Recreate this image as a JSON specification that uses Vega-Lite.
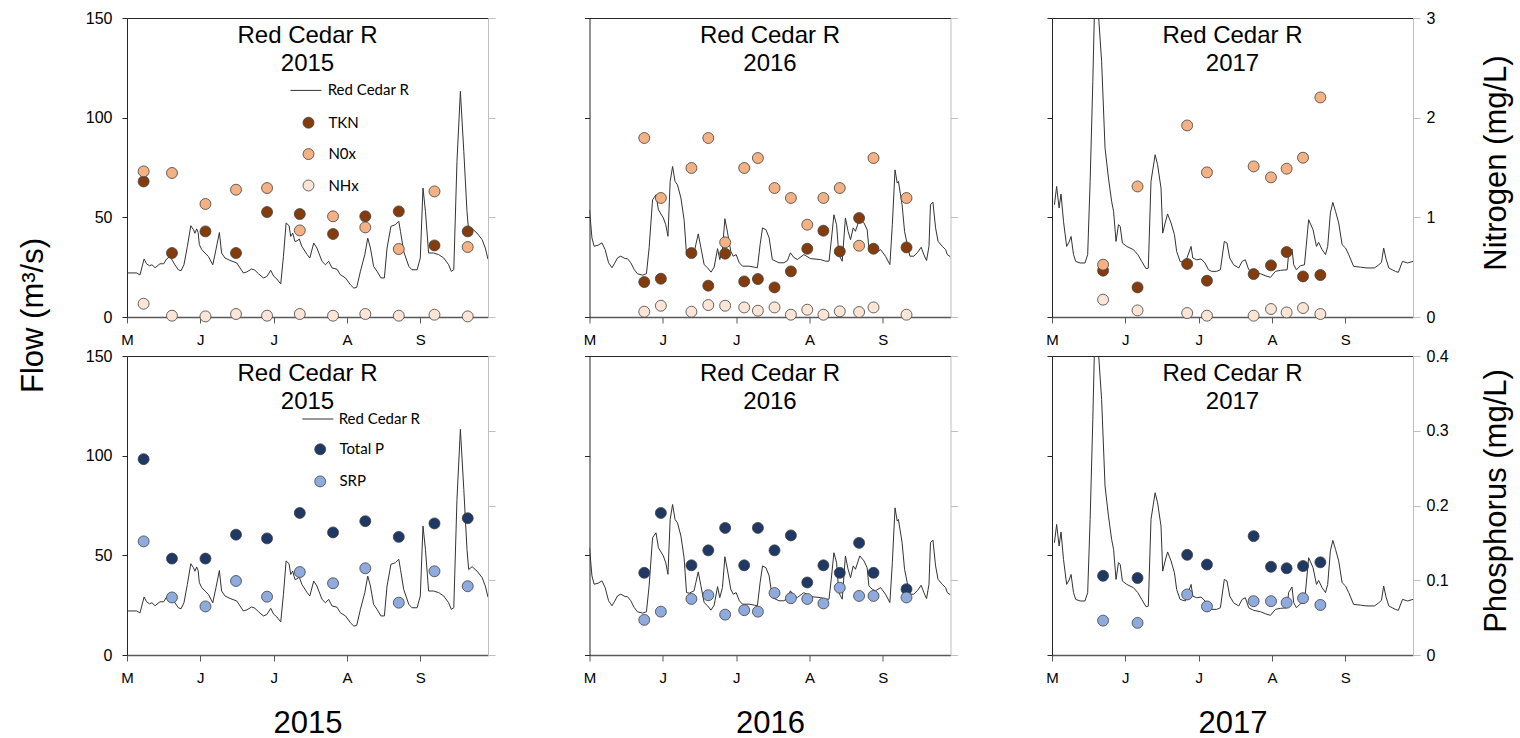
{
  "$schema": "https://vega.github.io/schema/vega-lite/v6.json",
  "background": "white",
  "padding": {"left": 17, "top": 10, "right": 5, "bottom": 0},
  "config": {
    "font": "Liberation Sans",
    "view": {"stroke": null},
    "axis": {"grid": false, "labelFlush": false, "labelColor": "#000", "titleColor": "#000", "titleFontWeight": "normal", "labelFont": "Liberation Sans", "titleFont": "Liberation Sans"},
    "legend": {"labelFont": "Lato", "labelFontSize": 15, "labelColor": "#000", "padding": 0},
    "text": {"font": "Liberation Sans", "fontSize": 24, "color": "#000", "baseline": "top", "align": "center", "lineHeight": 28}
  },
  "datasets": {
    "titles": [
      {"year":2015,"label":["Red Cedar R","2015"]},
      {"year":2016,"label":["Red Cedar R","2016"]},
      {"year":2017,"label":["Red Cedar R","2017"]}
    ],
    "flow2015": [
      {"day":0,"flow":22.1},{"day":4,"flow":22.1},{"day":5.3,"flow":21.1},{"day":7,"flow":29.1},{"day":8,"flow":26.7},{"day":9.2,"flow":25.7},{"day":10.2,"flow":26.2},{"day":11.5,"flow":24.7},{"day":13.5,"flow":26.7},{"day":15,"flow":26.7},{"day":16.2,"flow":29.1},{"day":17.6,"flow":30.4},{"day":19.6,"flow":26.2},{"day":21,"flow":23.7},{"day":22.1,"flow":23.2},{"day":23.3,"flow":26.2},{"day":24.7,"flow":35.4},{"day":26.1,"flow":45.8},{"day":27.2,"flow":43.8},{"day":27.8,"flow":42},{"day":28.5,"flow":44.2},{"day":29.1,"flow":42.4},{"day":29.6,"flow":36.3},{"day":30.6,"flow":33.8},{"day":31.9,"flow":32.1},{"day":33.3,"flow":30.4},{"day":35.1,"flow":26.2},{"day":36.4,"flow":33.8},{"day":37.8,"flow":42.4},{"day":38.7,"flow":32.1},{"day":40.1,"flow":29.6},{"day":42.1,"flow":28.4},{"day":44.9,"flow":27.1},{"day":47.6,"flow":22.1},{"day":49,"flow":22.6},{"day":51,"flow":24.1},{"day":52.3,"flow":23.5},{"day":53.8,"flow":21.7},{"day":55.8,"flow":19.6},{"day":57.2,"flow":20.3},{"day":58.8,"flow":23.4},{"day":60,"flow":20.5},{"day":61.3,"flow":19.1},{"day":62.9,"flow":16.6},{"day":64,"flow":30.4},{"day":65.1,"flow":47.2},{"day":66.3,"flow":45.8},{"day":67,"flow":40.4},{"day":67.8,"flow":42.1},{"day":68.7,"flow":37.9},{"day":69.6,"flow":38.2},{"day":70.5,"flow":39.1},{"day":71.5,"flow":35.5},{"day":73.7,"flow":31.3},{"day":74.8,"flow":29.6},{"day":76.4,"flow":37.1},{"day":77.7,"flow":34.6},{"day":79.8,"flow":27.9},{"day":81.2,"flow":26.2},{"day":82.5,"flow":27.9},{"day":83.9,"flow":24.6},{"day":85.9,"flow":24},{"day":87.3,"flow":21.2},{"day":89.4,"flow":19.6},{"day":91.4,"flow":16.2},{"day":92.8,"flow":14.5},{"day":94,"flow":14.9},{"day":95.5,"flow":22.9},{"day":97.3,"flow":31.3},{"day":98.5,"flow":39.6},{"day":99.6,"flow":34.6},{"day":100.9,"flow":25.4},{"day":102.3,"flow":22.9},{"day":103.9,"flow":19.6},{"day":105.3,"flow":19.6},{"day":106.4,"flow":34.6},{"day":108,"flow":45.5},{"day":109.8,"flow":46.3},{"day":111.2,"flow":48},{"day":111.9,"flow":42.9},{"day":113.2,"flow":32.9},{"day":115.3,"flow":25.4},{"day":116.6,"flow":23.7},{"day":118.7,"flow":23.7},{"day":120,"flow":29.6},{"day":121.1,"flow":64.7},{"day":122.1,"flow":53},{"day":123.4,"flow":32.1},{"day":125.4,"flow":32.1},{"day":127.5,"flow":31.3},{"day":129.6,"flow":29.6},{"day":131.6,"flow":26.2},{"day":132.7,"flow":22.9},{"day":133.7,"flow":23.7},{"day":135,"flow":78},{"day":136.4,"flow":113.2},{"day":137.8,"flow":83.1},{"day":139.1,"flow":53},{"day":139.8,"flow":42.9},{"day":141.2,"flow":44.3},{"day":143.2,"flow":42.1},{"day":145.3,"flow":38.8},{"day":146.6,"flow":34.6},{"day":147.7,"flow":29}
    ],
    "flow2016": [
      {"day":0,"flow":53.8},{"day":1,"flow":39.7},{"day":1.9,"flow":35.5},{"day":3.5,"flow":36},{"day":5.1,"flow":37.2},{"day":6.4,"flow":33.8},{"day":7.8,"flow":27.2},{"day":9.2,"flow":24.7},{"day":10.3,"flow":27},{"day":11.5,"flow":29.7},{"day":12.8,"flow":30.5},{"day":14.6,"flow":29.3},{"day":15.5,"flow":29.3},{"day":16.9,"flow":27.2},{"day":18.3,"flow":23.8},{"day":19.6,"flow":21.7},{"day":21.7,"flow":21},{"day":23.3,"flow":21.7},{"day":24.4,"flow":34.7},{"day":25.8,"flow":58.8},{"day":27.2,"flow":61.3},{"day":28.2,"flow":53.8},{"day":30.2,"flow":49.7},{"day":31.2,"flow":46.3},{"day":32.1,"flow":40.5},{"day":33,"flow":68},{"day":34,"flow":75.5},{"day":35,"flow":68},{"day":36,"flow":66.3},{"day":37.4,"flow":59.7},{"day":38.7,"flow":48.8},{"day":39.7,"flow":31.3},{"day":40.8,"flow":31},{"day":42.8,"flow":32.2},{"day":43.5,"flow":36.3},{"day":44.5,"flow":41.7},{"day":45.6,"flow":34.7},{"day":46.9,"flow":26.3},{"day":48.3,"flow":24.7},{"day":49.7,"flow":22.5},{"day":51,"flow":25},{"day":52.4,"flow":34.3},{"day":53.3,"flow":28.8},{"day":54.4,"flow":33.8},{"day":55.4,"flow":49.3},{"day":56.5,"flow":42.2},{"day":57.8,"flow":33},{"day":58.8,"flow":30.5},{"day":60,"flow":31.3},{"day":61.3,"flow":27.2},{"day":62.6,"flow":25.5},{"day":65.3,"flow":25.5},{"day":67.4,"flow":25},{"day":68.7,"flow":24.7},{"day":69.8,"flow":36.3},{"day":70.8,"flow":44.7},{"day":72.2,"flow":43.8},{"day":73.5,"flow":39.7},{"day":74.8,"flow":28.8},{"day":77.5,"flow":27.2},{"day":79.5,"flow":27.2},{"day":81,"flow":28.3},{"day":82.2,"flow":32.2},{"day":83.5,"flow":30},{"day":85,"flow":28.8},{"day":87.7,"flow":31.3},{"day":90.4,"flow":29.3},{"day":94.5,"flow":28.8},{"day":96.6,"flow":28},{"day":98,"flow":28},{"day":98.9,"flow":38},{"day":100,"flow":51.3},{"day":101.1,"flow":46.3},{"day":102,"flow":31.3},{"day":103.4,"flow":28},{"day":104.7,"flow":49.7},{"day":105.8,"flow":43},{"day":106.8,"flow":38.8},{"day":107.9,"flow":44.7},{"day":108.8,"flow":43},{"day":110.6,"flow":49.7},{"day":112.3,"flow":47.2},{"day":113.6,"flow":43.8},{"day":114.3,"flow":34.7},{"day":115.7,"flow":33},{"day":117,"flow":32.2},{"day":119.1,"flow":33.8},{"day":121.1,"flow":30.5},{"day":122.9,"flow":26.3},{"day":123.9,"flow":46.3},{"day":125,"flow":73.8},{"day":125.9,"flow":67.2},{"day":126.4,"flow":68},{"day":127.9,"flow":56.3},{"day":128.9,"flow":43},{"day":130,"flow":36.3},{"day":131.1,"flow":30.5},{"day":132.7,"flow":30.5},{"day":134.3,"flow":32.5},{"day":135.7,"flow":35},{"day":136.8,"flow":31.3},{"day":137.9,"flow":28.3},{"day":138.9,"flow":35.5},{"day":139.5,"flow":56.3},{"day":140.5,"flow":57.7},{"day":141.6,"flow":44.7},{"day":142.6,"flow":38},{"day":144.3,"flow":35.5},{"day":145.7,"flow":33.8},{"day":146.4,"flow":31.3},{"day":147.7,"flow":30.2}
    ],
    "flow2017": [
      {"day":1,"flow":56.3},{"day":1.9,"flow":65.5},{"day":2.9,"flow":54.7},{"day":3.7,"flow":61.7},{"day":4.7,"flow":48},{"day":6,"flow":35.4},{"day":7,"flow":37.6},{"day":7.8,"flow":40.4},{"day":8.8,"flow":31.3},{"day":9.7,"flow":27.9},{"day":11.5,"flow":27.1},{"day":13.5,"flow":27.1},{"day":14.6,"flow":31.3},{"day":15.6,"flow":68},{"day":16.7,"flow":118.2},{"day":17.3,"flow":150},{"day":18,"flow":165},{"day":19,"flow":152},{"day":20.3,"flow":128.2},{"day":21.7,"flow":84.8},{"day":23.1,"flow":69.7},{"day":24.4,"flow":58},{"day":25.2,"flow":53},{"day":26.2,"flow":37.9},{"day":27.2,"flow":46.3},{"day":27.9,"flow":45.5},{"day":28.8,"flow":37.1},{"day":30.6,"flow":35.4},{"day":33.3,"flow":33.8},{"day":35.1,"flow":31.3},{"day":36.7,"flow":27.9},{"day":38.5,"flow":24.2},{"day":39.4,"flow":24.5},{"day":40.5,"flow":68},{"day":42.2,"flow":81.4},{"day":43.2,"flow":76.4},{"day":44.6,"flow":64.7},{"day":45.3,"flow":42.1},{"day":46.3,"flow":47.2},{"day":47.3,"flow":51.7},{"day":48.7,"flow":47.2},{"day":50.1,"flow":41.3},{"day":51,"flow":32.9},{"day":52.4,"flow":27.9},{"day":54.5,"flow":27.1},{"day":56.9,"flow":35.4},{"day":57.6,"flow":29.6},{"day":59.2,"flow":28.7},{"day":61,"flow":29.1},{"day":62.6,"flow":27.1},{"day":64,"flow":23.7},{"day":65.3,"flow":22.9},{"day":67.4,"flow":22.9},{"day":68.9,"flow":23.7},{"day":70.5,"flow":37.9},{"day":71.6,"flow":37.1},{"day":72.7,"flow":29.6},{"day":74.3,"flow":26.2},{"day":76.4,"flow":24.6},{"day":77.8,"flow":27.9},{"day":79.1,"flow":28.7},{"day":80.5,"flow":23.7},{"day":82.5,"flow":22.4},{"day":85.3,"flow":21.7},{"day":87.3,"flow":20.7},{"day":89.4,"flow":19.9},{"day":91.4,"flow":22.9},{"day":93.5,"flow":23.4},{"day":96.2,"flow":23.7},{"day":96.8,"flow":31.3},{"day":98.2,"flow":34.1},{"day":98.9,"flow":26.2},{"day":100,"flow":23.7},{"day":101.6,"flow":25.7},{"day":103.3,"flow":26.2},{"day":105,"flow":48.8},{"day":106.8,"flow":43.8},{"day":108.2,"flow":35.4},{"day":109.1,"flow":37.4},{"day":110.5,"flow":33.8},{"day":111.9,"flow":31.3},{"day":112.8,"flow":35.4},{"day":113.9,"flow":52.2},{"day":114.9,"flow":57.5},{"day":116,"flow":53},{"day":117.3,"flow":47.2},{"day":118.7,"flow":36.3},{"day":120.1,"flow":34.6},{"day":121.4,"flow":31.3},{"day":123.4,"flow":25.4},{"day":126.2,"flow":25},{"day":128.9,"flow":24.6},{"day":131.9,"flow":24.6},{"day":133.7,"flow":26.2},{"day":134.8,"flow":27.4},{"day":135.7,"flow":34.6},{"day":136.7,"flow":29},{"day":137.8,"flow":24.6},{"day":139.2,"flow":23.7},{"day":140.5,"flow":22.9},{"day":141.7,"flow":22.4},{"day":143.4,"flow":27.9},{"day":145.5,"flow":27.1},{"day":147.7,"flow":27.9}
    ],
    "nitrogen": [
      {"year":2015,"param":"TKN","day":6.8,"value":1.36},{"year":2015,"param":"TKN","day":18.4,"value":0.642},{"year":2015,"param":"TKN","day":32.1,"value":0.859},{"year":2015,"param":"TKN","day":44.6,"value":0.642},{"year":2015,"param":"TKN","day":57.3,"value":1.053},{"year":2015,"param":"TKN","day":70.7,"value":1.033},{"year":2015,"param":"TKN","day":84.3,"value":0.833},{"year":2015,"param":"TKN","day":97.5,"value":1.01},{"year":2015,"param":"TKN","day":111.2,"value":1.06},{"year":2015,"param":"TKN","day":125.8,"value":0.718},{"year":2015,"param":"TKN","day":139.4,"value":0.859},
      {"year":2015,"param":"N0x","day":6.8,"value":1.461},{"year":2015,"param":"N0x","day":18.4,"value":1.445},{"year":2015,"param":"N0x","day":32.1,"value":1.134},{"year":2015,"param":"N0x","day":44.6,"value":1.277},{"year":2015,"param":"N0x","day":57.3,"value":1.294},{"year":2015,"param":"N0x","day":70.7,"value":0.869},{"year":2015,"param":"N0x","day":84.3,"value":1.01},{"year":2015,"param":"N0x","day":97.5,"value":0.899},{"year":2015,"param":"N0x","day":111.2,"value":0.682},{"year":2015,"param":"N0x","day":125.8,"value":1.26},{"year":2015,"param":"N0x","day":139.4,"value":0.702},
      {"year":2015,"param":"NHx","day":6.8,"value":0.133},{"year":2015,"param":"NHx","day":18.4,"value":0.013},{"year":2015,"param":"NHx","day":32.1,"value":0.006},{"year":2015,"param":"NHx","day":44.6,"value":0.03},{"year":2015,"param":"NHx","day":57.3,"value":0.013},{"year":2015,"param":"NHx","day":70.7,"value":0.03},{"year":2015,"param":"NHx","day":84.3,"value":0.013},{"year":2015,"param":"NHx","day":97.5,"value":0.03},{"year":2015,"param":"NHx","day":111.2,"value":0.013},{"year":2015,"param":"NHx","day":125.8,"value":0.023},{"year":2015,"param":"NHx","day":139.4,"value":0.006},
      {"year":2016,"param":"TKN","day":22.4,"value":0.351},{"year":2016,"param":"TKN","day":29.2,"value":0.384},{"year":2016,"param":"TKN","day":41.7,"value":0.642},{"year":2016,"param":"TKN","day":48.6,"value":0.314},{"year":2016,"param":"TKN","day":55.5,"value":0.635},{"year":2016,"param":"TKN","day":63.3,"value":0.357},{"year":2016,"param":"TKN","day":68.9,"value":0.381},{"year":2016,"param":"TKN","day":75.7,"value":0.297},{"year":2016,"param":"TKN","day":82.4,"value":0.458},{"year":2016,"param":"TKN","day":89.1,"value":0.685},{"year":2016,"param":"TKN","day":95.7,"value":0.866},{"year":2016,"param":"TKN","day":102.4,"value":0.658},{"year":2016,"param":"TKN","day":110.3,"value":0.993},{"year":2016,"param":"TKN","day":116.2,"value":0.685},{"year":2016,"param":"TKN","day":129.7,"value":0.698},
      {"year":2016,"param":"N0x","day":22.4,"value":1.796},{"year":2016,"param":"N0x","day":29.2,"value":1.194},{"year":2016,"param":"N0x","day":41.7,"value":1.495},{"year":2016,"param":"N0x","day":48.6,"value":1.796},{"year":2016,"param":"N0x","day":55.5,"value":0.749},{"year":2016,"param":"N0x","day":63.3,"value":1.495},{"year":2016,"param":"N0x","day":68.9,"value":1.595},{"year":2016,"param":"N0x","day":75.7,"value":1.294},{"year":2016,"param":"N0x","day":82.4,"value":1.194},{"year":2016,"param":"N0x","day":89.1,"value":0.926},{"year":2016,"param":"N0x","day":95.7,"value":1.194},{"year":2016,"param":"N0x","day":102.4,"value":1.294},{"year":2016,"param":"N0x","day":110.3,"value":0.715},{"year":2016,"param":"N0x","day":116.2,"value":1.595},{"year":2016,"param":"N0x","day":129.7,"value":1.194},
      {"year":2016,"param":"NHx","day":22.4,"value":0.053},{"year":2016,"param":"NHx","day":29.2,"value":0.113},{"year":2016,"param":"NHx","day":41.7,"value":0.053},{"year":2016,"param":"NHx","day":48.6,"value":0.12},{"year":2016,"param":"NHx","day":55.5,"value":0.113},{"year":2016,"param":"NHx","day":63.3,"value":0.096},{"year":2016,"param":"NHx","day":68.9,"value":0.063},{"year":2016,"param":"NHx","day":75.7,"value":0.096},{"year":2016,"param":"NHx","day":82.4,"value":0.023},{"year":2016,"param":"NHx","day":89.1,"value":0.073},{"year":2016,"param":"NHx","day":95.7,"value":0.023},{"year":2016,"param":"NHx","day":102.4,"value":0.057},{"year":2016,"param":"NHx","day":110.3,"value":0.05},{"year":2016,"param":"NHx","day":116.2,"value":0.096},{"year":2016,"param":"NHx","day":129.7,"value":0.023},
      {"year":2017,"param":"TKN","day":20.9,"value":0.465},{"year":2017,"param":"TKN","day":35,"value":0.297},{"year":2017,"param":"TKN","day":55.3,"value":0.532},{"year":2017,"param":"TKN","day":63.4,"value":0.364},{"year":2017,"param":"TKN","day":82.5,"value":0.431},{"year":2017,"param":"TKN","day":89.6,"value":0.518},{"year":2017,"param":"TKN","day":96,"value":0.652},{"year":2017,"param":"TKN","day":102.7,"value":0.407},{"year":2017,"param":"TKN","day":109.8,"value":0.421},
      {"year":2017,"param":"N0x","day":20.9,"value":0.525},{"year":2017,"param":"N0x","day":35,"value":1.31},{"year":2017,"param":"N0x","day":55.3,"value":1.922},{"year":2017,"param":"N0x","day":63.4,"value":1.451},{"year":2017,"param":"N0x","day":82.5,"value":1.511},{"year":2017,"param":"N0x","day":89.6,"value":1.401},{"year":2017,"param":"N0x","day":96,"value":1.488},{"year":2017,"param":"N0x","day":102.7,"value":1.598},{"year":2017,"param":"N0x","day":109.8,"value":2.203},
      {"year":2017,"param":"NHx","day":20.9,"value":0.174},{"year":2017,"param":"NHx","day":35,"value":0.066},{"year":2017,"param":"NHx","day":55.3,"value":0.04},{"year":2017,"param":"NHx","day":63.4,"value":0.013},{"year":2017,"param":"NHx","day":82.5,"value":0.013},{"year":2017,"param":"NHx","day":89.6,"value":0.08},{"year":2017,"param":"NHx","day":96,"value":0.046},{"year":2017,"param":"NHx","day":102.7,"value":0.09},{"year":2017,"param":"NHx","day":109.8,"value":0.03}
    ],
    "phosphorus": [
      {"year":2015,"param":"Total P","day":6.8,"value":0.262},{"year":2015,"param":"Total P","day":18.4,"value":0.129},{"year":2015,"param":"Total P","day":32.1,"value":0.129},{"year":2015,"param":"Total P","day":44.6,"value":0.161},{"year":2015,"param":"Total P","day":57.3,"value":0.156},{"year":2015,"param":"Total P","day":70.7,"value":0.19},{"year":2015,"param":"Total P","day":84.3,"value":0.164},{"year":2015,"param":"Total P","day":97.5,"value":0.179},{"year":2015,"param":"Total P","day":111.2,"value":0.158},{"year":2015,"param":"Total P","day":125.8,"value":0.176},{"year":2015,"param":"Total P","day":139.4,"value":0.183},
      {"year":2015,"param":"SRP","day":6.8,"value":0.152},{"year":2015,"param":"SRP","day":18.4,"value":0.077},{"year":2015,"param":"SRP","day":32.1,"value":0.065},{"year":2015,"param":"SRP","day":44.6,"value":0.099},{"year":2015,"param":"SRP","day":57.3,"value":0.078},{"year":2015,"param":"SRP","day":70.7,"value":0.111},{"year":2015,"param":"SRP","day":84.3,"value":0.096},{"year":2015,"param":"SRP","day":97.5,"value":0.116},{"year":2015,"param":"SRP","day":111.2,"value":0.07},{"year":2015,"param":"SRP","day":125.8,"value":0.112},{"year":2015,"param":"SRP","day":139.4,"value":0.092},
      {"year":2016,"param":"Total P","day":22.4,"value":0.11},{"year":2016,"param":"Total P","day":29.2,"value":0.19},{"year":2016,"param":"Total P","day":41.7,"value":0.12},{"year":2016,"param":"Total P","day":48.6,"value":0.14},{"year":2016,"param":"Total P","day":55.5,"value":0.17},{"year":2016,"param":"Total P","day":63.3,"value":0.12},{"year":2016,"param":"Total P","day":68.9,"value":0.17},{"year":2016,"param":"Total P","day":75.7,"value":0.14},{"year":2016,"param":"Total P","day":82.4,"value":0.16},{"year":2016,"param":"Total P","day":89.1,"value":0.097},{"year":2016,"param":"Total P","day":95.7,"value":0.12},{"year":2016,"param":"Total P","day":102.4,"value":0.11},{"year":2016,"param":"Total P","day":110.3,"value":0.15},{"year":2016,"param":"Total P","day":116.2,"value":0.11},{"year":2016,"param":"Total P","day":129.7,"value":0.088},
      {"year":2016,"param":"SRP","day":22.4,"value":0.047},{"year":2016,"param":"SRP","day":29.2,"value":0.058},{"year":2016,"param":"SRP","day":41.7,"value":0.075},{"year":2016,"param":"SRP","day":48.6,"value":0.08},{"year":2016,"param":"SRP","day":55.5,"value":0.054},{"year":2016,"param":"SRP","day":63.3,"value":0.06},{"year":2016,"param":"SRP","day":68.9,"value":0.058},{"year":2016,"param":"SRP","day":75.7,"value":0.083},{"year":2016,"param":"SRP","day":82.4,"value":0.076},{"year":2016,"param":"SRP","day":89.1,"value":0.075},{"year":2016,"param":"SRP","day":95.7,"value":0.069},{"year":2016,"param":"SRP","day":102.4,"value":0.09},{"year":2016,"param":"SRP","day":110.3,"value":0.079},{"year":2016,"param":"SRP","day":116.2,"value":0.079},{"year":2016,"param":"SRP","day":129.7,"value":0.077},
      {"year":2017,"param":"Total P","day":20.9,"value":0.106},{"year":2017,"param":"Total P","day":35,"value":0.103},{"year":2017,"param":"Total P","day":55.3,"value":0.134},{"year":2017,"param":"Total P","day":63.4,"value":0.121},{"year":2017,"param":"Total P","day":82.5,"value":0.159},{"year":2017,"param":"Total P","day":89.6,"value":0.118},{"year":2017,"param":"Total P","day":96,"value":0.116},{"year":2017,"param":"Total P","day":102.7,"value":0.119},{"year":2017,"param":"Total P","day":109.8,"value":0.124},
      {"year":2017,"param":"SRP","day":20.9,"value":0.046},{"year":2017,"param":"SRP","day":35,"value":0.043},{"year":2017,"param":"SRP","day":55.3,"value":0.081},{"year":2017,"param":"SRP","day":63.4,"value":0.065},{"year":2017,"param":"SRP","day":82.5,"value":0.072},{"year":2017,"param":"SRP","day":89.6,"value":0.072},{"year":2017,"param":"SRP","day":96,"value":0.07},{"year":2017,"param":"SRP","day":102.7,"value":0.076},{"year":2017,"param":"SRP","day":109.8,"value":0.067}
    ]
  },
  "columns": 3,
  "bounds": "flush",
  "spacing": {"row": 39, "column": 101.5},
  "resolve": {"scale": {"x": "independent", "y": "independent", "fill": "independent", "stroke": "independent"}, "legend": {"fill": "independent", "stroke": "independent"}},
  "concat": [
    {
      "width": 361, "height": 299,
      "resolve": {"scale": {"y": "independent"}, "axis": {"x": "independent", "y": "independent"}},
      "layer": [
        {
          "data": {"name": "flow2015"},
          "mark": {"type": "line", "clip": true, "strokeWidth": 1},
          "encoding": {
            "x": {"field": "day", "type": "quantitative", "scale": {"domain": [0, 147.7], "nice": false, "zero": false},
                  "axis": {"orient": "bottom", "values": [0, 30, 60, 90, 120], "labelExpr": "['M','J','J','A','S'][round(datum.value/30)]", "tickSize": 6, "tickColor": "#595959", "domainColor": "#595959", "domainWidth": 1.5, "labelFontSize": 15, "labelPadding": 9, "title": null}},
            "y": {"field": "flow", "type": "quantitative", "scale": {"domain": [0, 150], "nice": false},
                  "axis": {"orient": "left", "values": [0, 50, 100, 150], "tickSize": 5, "tickColor": "#262626", "domainColor": "#262626", "labelFontSize": 16, "labelPadding": 10, "title": "Flow (m³/s)", "titleFontSize": 31, "titleAngle": 270, "titleX": -85, "titleY": 297, "titleBaseline": "alphabetic", "titleAlign": "center"}},
            "stroke": {"datum": "Red Cedar R", "type": "nominal", "scale": {"domain": ["Red Cedar R"], "range": ["#333333"]},
                       "legend": {"orient": "none", "legendX": 163, "legendY": 56.4, "title": null, "symbolType": "stroke", "symbolSize": 961, "symbolStrokeWidth": 1, "labelOffset": 5.7}}
          }
        },
        {
          "data": {"name": "nitrogen"},
          "transform": [{"filter": "datum.year == 2015"}],
          "mark": {"type": "circle", "size": 120, "stroke": "#404040", "strokeWidth": 0.8, "opacity": 1},
          "encoding": {
            "x": {"field": "day", "type": "quantitative", "axis": {"orient": "top", "labels": false, "ticks": false, "title": null, "domainColor": "#262626"}},
            "y": {"field": "value", "type": "quantitative", "scale": {"domain": [0, 3], "nice": false},
                  "axis": {"orient": "right", "values": [0, 1, 2, 3], "tickSize": 7, "tickColor": "#BFBFBF", "domainColor": "#BFBFBF", "labels": false, "title": null}},
            "fill": {"field": "param", "type": "nominal", "scale": {"domain": ["TKN", "N0x", "NHx"], "range": ["#843C0C", "#F4B183", "#FBE5D6"]},
                     "legend": {"orient": "none", "legendX": 174, "legendY": 97.2, "title": null, "symbolType": "circle", "symbolSize": 120, "symbolStrokeColor": "#404040", "symbolStrokeWidth": 0.8, "symbolOpacity": 1, "labelOffset": 12.4, "rowPadding": 15.4}}
          }
        },
        {
          "data": {"name": "titles"},
          "transform": [{"filter": "datum.year == 2015"}],
          "mark": {"type": "text"},
          "encoding": {
            "x": {"datum": 73.85, "type": "quantitative", "axis": null},
            "y": {"datum": 146.8, "type": "quantitative", "scale": {"domain": [0, 150], "nice": false}, "axis": null},
            "text": {"field": "label"}
          }
        }
      ]
    },
    {
      "width": 361, "height": 299,
      "resolve": {"scale": {"y": "independent"}, "axis": {"x": "independent", "y": "independent"}},
      "layer": [
        {
          "data": {"name": "flow2016"},
          "mark": {"type": "line", "clip": true, "strokeWidth": 1},
          "encoding": {
            "x": {"field": "day", "type": "quantitative", "scale": {"domain": [0, 147.7], "nice": false, "zero": false},
                  "axis": {"orient": "bottom", "values": [0, 30, 60, 90, 120], "labelExpr": "['M','J','J','A','S'][round(datum.value/30)]", "tickSize": 6, "tickColor": "#595959", "domainColor": "#595959", "domainWidth": 1.5, "labelFontSize": 15, "labelPadding": 9, "title": null}},
            "y": {"field": "flow", "type": "quantitative", "scale": {"domain": [0, 150], "nice": false},
                  "axis": {"orient": "left", "values": [0, 50, 100, 150], "tickSize": 5, "tickColor": "#262626", "domainColor": "#262626", "labels": false, "title": null}},
            "stroke": {"datum": "Red Cedar R", "type": "nominal", "scale": {"domain": ["Red Cedar R"], "range": ["#333333"]}, "legend": null}
          }
        },
        {
          "data": {"name": "nitrogen"},
          "transform": [{"filter": "datum.year == 2016"}],
          "mark": {"type": "circle", "size": 120, "stroke": "#404040", "strokeWidth": 0.8, "opacity": 1},
          "encoding": {
            "x": {"field": "day", "type": "quantitative", "axis": {"orient": "top", "labels": false, "ticks": false, "title": null, "domainColor": "#262626"}},
            "y": {"field": "value", "type": "quantitative", "scale": {"domain": [0, 3], "nice": false},
                  "axis": {"orient": "right", "values": [0, 1, 2, 3], "tickSize": 7, "tickColor": "#BFBFBF", "domainColor": "#BFBFBF", "labels": false, "title": null}},
            "fill": {"field": "param", "type": "nominal", "scale": {"domain": ["TKN", "N0x", "NHx"], "range": ["#843C0C", "#F4B183", "#FBE5D6"]}, "legend": null}
          }
        },
        {
          "data": {"name": "titles"},
          "transform": [{"filter": "datum.year == 2016"}],
          "mark": {"type": "text"},
          "encoding": {
            "x": {"datum": 73.85, "type": "quantitative", "axis": null},
            "y": {"datum": 146.8, "type": "quantitative", "scale": {"domain": [0, 150], "nice": false}, "axis": null},
            "text": {"field": "label"}
          }
        }
      ]
    },
    {
      "width": 361, "height": 299,
      "resolve": {"scale": {"y": "independent"}, "axis": {"x": "independent", "y": "independent"}},
      "layer": [
        {
          "data": {"name": "flow2017"},
          "mark": {"type": "line", "clip": true, "strokeWidth": 1},
          "encoding": {
            "x": {"field": "day", "type": "quantitative", "scale": {"domain": [0, 147.7], "nice": false, "zero": false},
                  "axis": {"orient": "bottom", "values": [0, 30, 60, 90, 120], "labelExpr": "['M','J','J','A','S'][round(datum.value/30)]", "tickSize": 6, "tickColor": "#595959", "domainColor": "#595959", "domainWidth": 1.5, "labelFontSize": 15, "labelPadding": 9, "title": null}},
            "y": {"field": "flow", "type": "quantitative", "scale": {"domain": [0, 150], "nice": false},
                  "axis": {"orient": "left", "values": [0, 50, 100, 150], "tickSize": 5, "tickColor": "#262626", "domainColor": "#262626", "labels": false, "title": null}},
            "stroke": {"datum": "Red Cedar R", "type": "nominal", "scale": {"domain": ["Red Cedar R"], "range": ["#333333"]}, "legend": null}
          }
        },
        {
          "data": {"name": "nitrogen"},
          "transform": [{"filter": "datum.year == 2017"}],
          "mark": {"type": "circle", "size": 120, "stroke": "#404040", "strokeWidth": 0.8, "opacity": 1},
          "encoding": {
            "x": {"field": "day", "type": "quantitative", "axis": {"orient": "top", "labels": false, "ticks": false, "title": null, "domainColor": "#262626"}},
            "y": {"field": "value", "type": "quantitative", "scale": {"domain": [0, 3], "nice": false},
                  "axis": {"orient": "right", "values": [0, 1, 2, 3], "tickSize": 7, "tickColor": "#BFBFBF", "domainColor": "#BFBFBF", "labels": true, "labelFontSize": 16, "labelPadding": 6, "format": "~g", "title": "Nitrogen (mg/L)", "titleFontSize": 31, "titleAngle": 270, "titleX": 92.6, "titleY": 144.5, "titleBaseline": "alphabetic", "titleAlign": "center"}},
            "fill": {"field": "param", "type": "nominal", "scale": {"domain": ["TKN", "N0x", "NHx"], "range": ["#843C0C", "#F4B183", "#FBE5D6"]}, "legend": null}
          }
        },
        {
          "data": {"name": "titles"},
          "transform": [{"filter": "datum.year == 2017"}],
          "mark": {"type": "text"},
          "encoding": {
            "x": {"datum": 73.85, "type": "quantitative", "axis": null},
            "y": {"datum": 146.8, "type": "quantitative", "scale": {"domain": [0, 150], "nice": false}, "axis": null},
            "text": {"field": "label"}
          }
        }
      ]
    },
    {
      "width": 361, "height": 299,
      "resolve": {"scale": {"y": "independent"}, "axis": {"x": "independent", "y": "independent"}},
      "layer": [
        {
          "data": {"name": "flow2015"},
          "mark": {"type": "line", "clip": true, "strokeWidth": 1},
          "encoding": {
            "x": {"field": "day", "type": "quantitative", "scale": {"domain": [0, 147.7], "nice": false, "zero": false},
                  "axis": {"orient": "bottom", "values": [0, 30, 60, 90, 120], "labelExpr": "['M','J','J','A','S'][round(datum.value/30)]", "tickSize": 6, "tickColor": "#595959", "domainColor": "#595959", "domainWidth": 1.5, "labelFontSize": 15, "labelPadding": 9, "title": "2015", "titleFontSize": 31, "titleY": 77.3, "titleBaseline": "alphabetic"}},
            "y": {"field": "flow", "type": "quantitative", "scale": {"domain": [0, 150], "nice": false},
                  "axis": {"orient": "left", "values": [0, 50, 100, 150], "tickSize": 5, "tickColor": "#262626", "domainColor": "#262626", "labelFontSize": 16, "labelPadding": 10, "title": null}},
            "stroke": {"datum": "Red Cedar R", "type": "nominal", "scale": {"domain": ["Red Cedar R"], "range": ["#333333"]},
                       "legend": {"orient": "none", "legendX": 174.9, "legendY": 47, "title": null, "symbolType": "stroke", "symbolSize": 961, "symbolStrokeWidth": 1, "labelOffset": 4.8}}
          }
        },
        {
          "data": {"name": "phosphorus"},
          "transform": [{"filter": "datum.year == 2015"}],
          "mark": {"type": "circle", "size": 120, "stroke": "#404040", "strokeWidth": 0.8, "opacity": 1},
          "encoding": {
            "x": {"field": "day", "type": "quantitative", "axis": {"orient": "top", "labels": false, "ticks": false, "title": null, "domainColor": "#262626"}},
            "y": {"field": "value", "type": "quantitative", "scale": {"domain": [0, 0.4], "nice": false},
                  "axis": {"orient": "right", "values": [0, 0.1, 0.2, 0.3, 0.4], "tickSize": 7, "tickColor": "#BFBFBF", "domainColor": "#BFBFBF", "labels": false, "title": null}},
            "fill": {"field": "param", "type": "nominal", "scale": {"domain": ["Total P", "SRP"], "range": ["#1F3864", "#8FAADC"]},
                     "legend": {"orient": "none", "legendX": 185.7, "legendY": 85.8, "title": null, "symbolType": "circle", "symbolSize": 120, "symbolStrokeColor": "#404040", "symbolStrokeWidth": 0.8, "symbolOpacity": 1, "labelOffset": 11.7, "rowPadding": 16.1}}
          }
        },
        {
          "data": {"name": "titles"},
          "transform": [{"filter": "datum.year == 2015"}],
          "mark": {"type": "text"},
          "encoding": {
            "x": {"datum": 73.85, "type": "quantitative", "axis": null},
            "y": {"datum": 146.8, "type": "quantitative", "scale": {"domain": [0, 150], "nice": false}, "axis": null},
            "text": {"field": "label"}
          }
        }
      ]
    },
    {
      "width": 361, "height": 299,
      "resolve": {"scale": {"y": "independent"}, "axis": {"x": "independent", "y": "independent"}},
      "layer": [
        {
          "data": {"name": "flow2016"},
          "mark": {"type": "line", "clip": true, "strokeWidth": 1},
          "encoding": {
            "x": {"field": "day", "type": "quantitative", "scale": {"domain": [0, 147.7], "nice": false, "zero": false},
                  "axis": {"orient": "bottom", "values": [0, 30, 60, 90, 120], "labelExpr": "['M','J','J','A','S'][round(datum.value/30)]", "tickSize": 6, "tickColor": "#595959", "domainColor": "#595959", "domainWidth": 1.5, "labelFontSize": 15, "labelPadding": 9, "title": "2016", "titleFontSize": 31, "titleY": 77.3, "titleBaseline": "alphabetic"}},
            "y": {"field": "flow", "type": "quantitative", "scale": {"domain": [0, 150], "nice": false},
                  "axis": {"orient": "left", "values": [0, 50, 100, 150], "tickSize": 5, "tickColor": "#262626", "domainColor": "#262626", "labels": false, "title": null}},
            "stroke": {"datum": "Red Cedar R", "type": "nominal", "scale": {"domain": ["Red Cedar R"], "range": ["#333333"]}, "legend": null}
          }
        },
        {
          "data": {"name": "phosphorus"},
          "transform": [{"filter": "datum.year == 2016"}],
          "mark": {"type": "circle", "size": 120, "stroke": "#404040", "strokeWidth": 0.8, "opacity": 1},
          "encoding": {
            "x": {"field": "day", "type": "quantitative", "axis": {"orient": "top", "labels": false, "ticks": false, "title": null, "domainColor": "#262626"}},
            "y": {"field": "value", "type": "quantitative", "scale": {"domain": [0, 0.4], "nice": false},
                  "axis": {"orient": "right", "values": [0, 0.1, 0.2, 0.3, 0.4], "tickSize": 7, "tickColor": "#BFBFBF", "domainColor": "#BFBFBF", "labels": false, "title": null}},
            "fill": {"field": "param", "type": "nominal", "scale": {"domain": ["Total P", "SRP"], "range": ["#1F3864", "#8FAADC"]}, "legend": null}
          }
        },
        {
          "data": {"name": "titles"},
          "transform": [{"filter": "datum.year == 2016"}],
          "mark": {"type": "text"},
          "encoding": {
            "x": {"datum": 73.85, "type": "quantitative", "axis": null},
            "y": {"datum": 146.8, "type": "quantitative", "scale": {"domain": [0, 150], "nice": false}, "axis": null},
            "text": {"field": "label"}
          }
        }
      ]
    },
    {
      "width": 361, "height": 299,
      "resolve": {"scale": {"y": "independent"}, "axis": {"x": "independent", "y": "independent"}},
      "layer": [
        {
          "data": {"name": "flow2017"},
          "mark": {"type": "line", "clip": true, "strokeWidth": 1},
          "encoding": {
            "x": {"field": "day", "type": "quantitative", "scale": {"domain": [0, 147.7], "nice": false, "zero": false},
                  "axis": {"orient": "bottom", "values": [0, 30, 60, 90, 120], "labelExpr": "['M','J','J','A','S'][round(datum.value/30)]", "tickSize": 6, "tickColor": "#595959", "domainColor": "#595959", "domainWidth": 1.5, "labelFontSize": 15, "labelPadding": 9, "title": "2017", "titleFontSize": 31, "titleY": 77.3, "titleBaseline": "alphabetic"}},
            "y": {"field": "flow", "type": "quantitative", "scale": {"domain": [0, 150], "nice": false},
                  "axis": {"orient": "left", "values": [0, 50, 100, 150], "tickSize": 5, "tickColor": "#262626", "domainColor": "#262626", "labels": false, "title": null}},
            "stroke": {"datum": "Red Cedar R", "type": "nominal", "scale": {"domain": ["Red Cedar R"], "range": ["#333333"]}, "legend": null}
          }
        },
        {
          "data": {"name": "phosphorus"},
          "transform": [{"filter": "datum.year == 2017"}],
          "mark": {"type": "circle", "size": 120, "stroke": "#404040", "strokeWidth": 0.8, "opacity": 1},
          "encoding": {
            "x": {"field": "day", "type": "quantitative", "axis": {"orient": "top", "labels": false, "ticks": false, "title": null, "domainColor": "#262626"}},
            "y": {"field": "value", "type": "quantitative", "scale": {"domain": [0, 0.4], "nice": false},
                  "axis": {"orient": "right", "values": [0, 0.1, 0.2, 0.3, 0.4], "tickSize": 7, "tickColor": "#BFBFBF", "domainColor": "#BFBFBF", "labels": true, "labelFontSize": 16, "labelPadding": 6, "format": "~g", "title": "Phosphorus (mg/L)", "titleFontSize": 31, "titleAngle": 270, "titleX": 92.6, "titleY": 144.5, "titleBaseline": "alphabetic", "titleAlign": "center"}},
            "fill": {"field": "param", "type": "nominal", "scale": {"domain": ["Total P", "SRP"], "range": ["#1F3864", "#8FAADC"]}, "legend": null}
          }
        },
        {
          "data": {"name": "titles"},
          "transform": [{"filter": "datum.year == 2017"}],
          "mark": {"type": "text"},
          "encoding": {
            "x": {"datum": 73.85, "type": "quantitative", "axis": null},
            "y": {"datum": 146.8, "type": "quantitative", "scale": {"domain": [0, 150], "nice": false}, "axis": null},
            "text": {"field": "label"}
          }
        }
      ]
    }
  ]
}
